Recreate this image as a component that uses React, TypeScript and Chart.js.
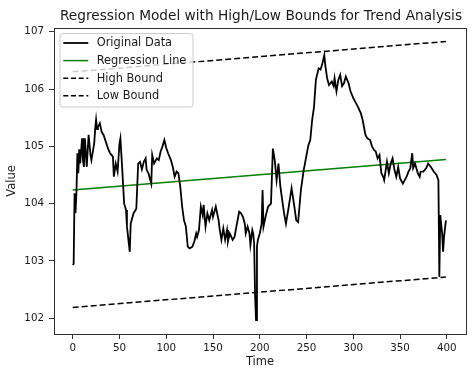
import React, { useEffect, useRef } from "react";
import { Chart, registerables } from "chart.js";

Chart.register(...registerables);

const chartTitle = "Regression Model with High/Low Bounds for Trend Analysis";
const xAxisTitle = "Time";
const yAxisTitle = "Value";

const timeIdx = [
  0, 1, 2, 3, 4, 5, 6, 7, 8, 10, 11, 12, 13, 14, 15, 17, 19, 20, 23, 24, 25, 26, 27, 29, 31, 33, 36, 38, 40, 43,
  44, 46, 48, 50, 51, 53, 55, 57, 58, 61, 62, 65, 68, 70, 72, 74, 76, 78, 79, 81, 84, 85, 87, 90, 92, 94, 96, 98, 100, 102,
  105, 107, 109, 111, 113, 115, 117, 119, 121, 123, 125, 128, 130, 132, 133, 135, 137, 139, 140, 142, 144, 146, 149, 150, 153, 156, 157, 159, 161, 163,
  165, 166, 168, 171, 173, 175, 178, 180, 182, 184, 185, 187, 189, 190, 192, 193, 194, 195, 196, 197, 198, 200, 202, 203, 204, 207, 209, 212, 214, 216,
  218, 220, 222, 224, 226, 228, 231, 234, 237, 239, 241, 244, 247, 249, 252, 254, 256, 258, 260, 263, 265, 267, 269, 270, 272, 274, 277, 279, 280, 282,
  284, 286, 288, 290, 292, 295, 297, 300, 303, 305, 308, 310, 313, 315, 318, 320, 322, 324, 326, 328, 330, 332, 333, 336, 338, 340, 342, 344, 346, 348,
  350, 353, 355, 357, 359, 361, 363, 364, 366, 369, 371, 372, 375, 378, 380, 383, 386, 389, 391, 392, 393, 395, 396, 397, 399,
];

const values = [
  102.93, 102.95, 104.18, 103.84, 104.2, 104.88, 104.53, 104.95, 104.7, 105.14, 104.75, 104.64, 105.14, 104.9, 104.64, 105.2, 104.85, 104.76, 105.05, 105.3, 105.46, 105.3, 105.34, 105.4, 105.25, 105.2, 105.05, 104.95, 104.88, 104.82,
  104.47, 104.7, 104.56, 105.05, 105.14, 104.59, 104.0, 103.89, 103.6, 103.16, 103.65, 103.83, 103.91, 104.7, 104.73, 104.6, 104.73, 104.79, 104.59, 104.53, 104.35, 104.85, 104.7, 104.79, 104.76, 104.91, 105.0, 105.11, 104.97, 104.88,
  104.76, 104.64, 104.47, 104.56, 104.53, 104.3, 103.95, 103.71, 103.6, 103.25, 103.22, 103.25, 103.34, 103.48, 103.42, 103.54, 103.95, 103.8, 103.98, 103.6, 103.83, 103.71, 103.89, 103.77, 103.95, 103.71, 103.57, 103.37, 103.57, 103.37,
  103.54, 103.34, 103.48, 103.37, 103.42, 103.6, 103.86, 103.83, 103.77, 103.65, 103.48, 103.6, 103.48, 103.28, 103.54, 103.48, 103.3, 102.4, 101.97, 103.25, 103.37, 103.48, 103.65, 104.24, 103.6, 103.83, 103.95, 104.0, 104.96, 104.76,
  104.41, 104.7, 104.3, 104.06, 103.83, 103.65, 103.95, 104.27, 103.95, 103.71, 103.68, 104.24, 104.59, 104.76, 105.02, 105.11, 105.46, 105.69, 106.16, 106.36, 106.34, 106.45, 106.59, 106.42, 106.19, 106.07, 106.13, 106.05, 106.19, 105.96,
  106.16, 106.25, 106.05, 106.1, 106.22, 106.1, 105.96, 105.84, 105.75, 105.69, 105.58, 105.46, 105.2, 105.14, 105.11, 105.0, 104.94, 104.91, 104.79, 104.85, 104.53, 104.47, 104.41, 104.73, 104.53, 104.7, 104.79, 104.59, 104.47, 104.64,
  104.44, 104.35, 104.41, 104.47, 104.56, 104.62, 104.88, 104.62, 104.7, 104.53, 104.47, 104.56, 104.56, 104.62, 104.7, 104.64, 104.56, 104.5, 104.41, 102.72, 103.8, 103.48, 103.16, 103.42, 103.71,
];

const lineX = [0, 399];
const regressionY = [104.24, 104.77];
const highY = [106.3, 106.83];
const lowY = [102.19, 102.72];

const xTicks = [0, 50, 100, 150, 200, 250, 300, 350, 400];
const yTicks = [102, 103, 104, 105, 106, 107];

const seriesLabels = ["Original Data", "Regression Line", "High Bound", "Low Bound"];

const FONT = "'DejaVu Sans', Verdana, sans-serif";
const TEXT = "#1a1a1a";

const toPts = (xs: number[], ys: number[]) => xs.map((x, i) => ({ x, y: ys[i] }));

const decorPlugin = {
  id: "decor",
  afterDatasetsDraw(chart: any) {
    const { ctx, chartArea } = chart;
    const { left, top, right, bottom } = chartArea;
    ctx.save();
    // frame
    ctx.strokeStyle = "#333";
    ctx.lineWidth = 1;
    ctx.strokeRect(Math.round(left) + 0.5, Math.round(top) + 0.5, Math.round(right - left), Math.round(bottom - top));

    // legend
    const bx = left + 6;
    const by = top + 5.5;
    const bw = 133;
    const bh = 73.5;
    ctx.beginPath();
    const r = 3;
    ctx.moveTo(bx + r, by);
    ctx.lineTo(bx + bw - r, by);
    ctx.quadraticCurveTo(bx + bw, by, bx + bw, by + r);
    ctx.lineTo(bx + bw, by + bh - r);
    ctx.quadraticCurveTo(bx + bw, by + bh, bx + bw - r, by + bh);
    ctx.lineTo(bx + r, by + bh);
    ctx.quadraticCurveTo(bx, by + bh, bx, by + bh - r);
    ctx.lineTo(bx, by + r);
    ctx.quadraticCurveTo(bx, by, bx + r, by);
    ctx.closePath();
    ctx.fillStyle = "rgba(255,255,255,0.8)";
    ctx.fill();
    ctx.strokeStyle = "#cccccc";
    ctx.lineWidth = 1;
    ctx.stroke();

    ctx.font = `11.4px ${FONT}`;
    ctx.textBaseline = "middle";
    ctx.textAlign = "left";
    chart.data.datasets.forEach((ds: any, i: number) => {
      const yy = by + 9.5 + i * 17.6;
      ctx.beginPath();
      ctx.strokeStyle = ds.borderColor;
      ctx.lineWidth = ds.borderWidth;
      ctx.setLineDash(ds.borderDash ? [5, 2.7] : []);
      ctx.moveTo(bx + 3.3, yy);
      ctx.lineTo(bx + 28.3, yy);
      ctx.stroke();
      ctx.setLineDash([]);
      ctx.fillStyle = TEXT;
      ctx.fillText(ds.label, bx + 36.7, yy + 0.5);
    });

    // title
    ctx.font = `13.7px ${FONT}`;
    ctx.textAlign = "center";
    ctx.textBaseline = "middle";
    ctx.fillStyle = TEXT;
    ctx.fillText(chartTitle, (left + right) / 2 + 1, 16.7);
    ctx.restore();
  },
};

export default function App() {
  const ref = useRef<HTMLCanvasElement | null>(null);
  useEffect(() => {
    if (!ref.current) return;
    const chart = new Chart(ref.current, {
      type: "line",
      data: {
        datasets: [
          {
            label: seriesLabels[0],
            data: toPts(timeIdx, values),
            borderColor: "#000000",
            borderWidth: 1.8,
            pointRadius: 0,
            tension: 0,
          },
          {
            label: seriesLabels[1],
            data: toPts(lineX, regressionY),
            borderColor: "#008000",
            borderWidth: 1.5,
            pointRadius: 0,
          },
          {
            label: seriesLabels[2],
            data: toPts(lineX, highY),
            borderColor: "#000000",
            borderWidth: 1.5,
            borderDash: [6, 3],
            pointRadius: 0,
          },
          {
            label: seriesLabels[3],
            data: toPts(lineX, lowY),
            borderColor: "#000000",
            borderWidth: 1.5,
            borderDash: [6, 3],
            pointRadius: 0,
          },
        ],
      },
      options: {
        animation: false,
        responsive: false,
        maintainAspectRatio: false,
        layout: { padding: { top: 28, right: 8, left: 0, bottom: 0 } },
        plugins: {
          legend: { display: false },
          title: { display: false },
          tooltip: { enabled: false },
        },
        scales: {
          x: {
            type: "linear",
            min: -20,
            max: 420.5,
            afterFit: (s: any) => {
              s.height = 35;
            },
            afterBuildTicks: (s: any) => {
              s.ticks = xTicks.map((v) => ({ value: v }));
            },
            ticks: {
              font: { family: FONT, size: 10.3 },
              color: TEXT,
              padding: 3,
              maxRotation: 0,
              autoSkip: false,
              includeBounds: false,
              callback: (v: any) => String(v),
            },
            grid: { drawOnChartArea: false, drawTicks: true, tickLength: 5, color: "#333" },
            border: { display: false },
            title: {
              display: true,
              text: xAxisTitle,
              font: { family: FONT, size: 11.5 },
              color: TEXT,
              padding: { top: 0, bottom: 0 },
            },
          },
          y: {
            type: "linear",
            min: 101.726,
            max: 107.065,
            afterFit: (s: any) => {
              s.width = 54;
            },
            afterBuildTicks: (s: any) => {
              s.ticks = yTicks.map((v) => ({ value: v }));
            },
            ticks: {
              font: { family: FONT, size: 10.3 },
              color: TEXT,
              padding: 5,
              autoSkip: false,
              includeBounds: false,
              callback: (v: any) => String(v),
            },
            grid: { drawOnChartArea: false, drawTicks: true, tickLength: 5, color: "#333" },
            border: { display: false },
            title: {
              display: true,
              text: yAxisTitle,
              font: { family: FONT, size: 11.5 },
              color: TEXT,
              padding: { top: 5, bottom: 0 },
            },
          },
        },
      },
      plugins: [decorPlugin],
    });
    return () => chart.destroy();
  }, []);

  return (
    <div style={{ position: "absolute", left: 0, top: 0, width: 474, height: 369, background: "#fff" }}>
      <canvas ref={ref} width={474} height={369} style={{ display: "block" }} />
    </div>
  );
}
